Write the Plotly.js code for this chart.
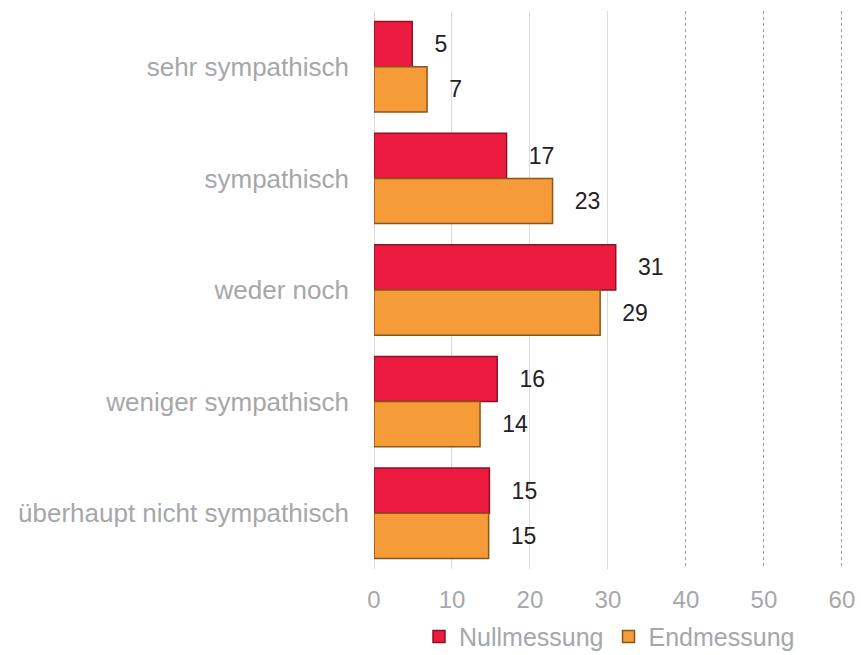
<!DOCTYPE html>
<html>
<head>
<meta charset="utf-8">
<script src="https://cdn.plot.ly/plotly-3.0.1.min.js"></script>
<style>
  html, body { margin: 0; padding: 0; background: #fff; }
  #chart { width: 861px; height: 655px; }
</style>
</head>
<body>
<div id="chart"></div>
<script>
// categories, top to bottom
var categories = ['sehr sympathisch', 'sympathisch', 'weder noch', 'weniger sympathisch', 'überhaupt nicht sympathisch'];
var nullValues = [4.9, 17.0, 31.0, 15.8, 14.8];
var endValues = [6.8, 22.9, 29.0, 13.6, 14.7];
var solidTicks = [0, 10, 20, 30];
var dottedTicks = [40, 50, 60];

var grey = '#A6A7AA';
var fontFam = 'Liberation Sans, Arial, sans-serif';

var nullSeries = {
    name: 'Nullmessung',
    type: 'bar',
    orientation: 'h',
    y: categories,
    x: nullValues,
    marker: { color: '#EC1B3F', line: { color: '#8E1226', width: 1.5 } },
    texttemplate: '   %{x:.0f}',
    textposition: 'outside',
    cliponaxis: false,
    textfont: { family: fontFam, size: 23, color: '#222' },
    hoverinfo: 'x+y'
};

var endSeries = {
    name: 'Endmessung',
    type: 'bar',
    orientation: 'h',
    y: categories,
    x: endValues,
    marker: { color: '#F59B38', line: { color: '#8A5518', width: 1.5 } },
    texttemplate: '   %{x:.0f}',
    textposition: 'outside',
    cliponaxis: false,
    textfont: { family: fontFam, size: 23, color: '#222' },
    hoverinfo: 'x+y'
};

// invisible helper so the dotted grid of the right part can live on its own axis
var gridHelper = {
    type: 'scatter',
    x: [0, 60],
    y: [categories[0], categories[0]],
    xaxis: 'x2',
    mode: 'none',
    showlegend: false,
    hoverinfo: 'skip'
};

var layout = {
    width: 861,
    height: 655,
    margin: { l: 374, r: 16, t: 11, b: 86 },
    paper_bgcolor: '#fff',
    plot_bgcolor: '#fff',
    font: { family: fontFam, color: grey },
    barmode: 'group',
    bargap: 0.19,
    bargroupgap: 0,
    xaxis: {
        range: [0, 60.4],
        tickvals: solidTicks,
        ticktext: solidTicks.map(String),
        showgrid: true,
        gridcolor: '#DCDCDC',
        gridwidth: 1,
        zeroline: true,
        zerolinecolor: '#DCDCDC',
        showline: false,
        ticks: '',
        ticklabelstandoff: 14,
        tickfont: { size: 24, color: grey },
        fixedrange: true
    },
    xaxis2: {
        overlaying: 'x',
        anchor: 'y',
        side: 'bottom',
        range: [0, 60.4],
        tickvals: dottedTicks,
        ticktext: dottedTicks.map(String),
        showgrid: true,
        gridcolor: '#9A9A9A',
        griddash: 'dot',
        gridwidth: 1,
        zeroline: false,
        showline: false,
        ticks: '',
        ticklabelstandoff: 14,
        tickfont: { size: 24, color: grey }
    },
    yaxis: {
        type: 'category',
        categoryorder: 'array',
        categoryarray: categories,
        autorange: 'reversed',
        showgrid: false,
        zeroline: false,
        showline: false,
        ticks: '',
        ticklabelstandoff: 24,
        tickfont: { size: 26, color: grey },
        fixedrange: true
    },
    showlegend: true,
    legend: {
        orientation: 'h',
        x: 0.5,
        xanchor: 'center',
        yref: 'container',
        y: 0.028,
        yanchor: 'middle',
        font: { size: 25, color: grey },
        itemwidth: 30,
        tracegroupgap: 0
    }
};

Plotly.newPlot('chart', [gridHelper, nullSeries, endSeries], layout, { displayModeBar: false, staticPlot: true });
</script>
</body>
</html>
